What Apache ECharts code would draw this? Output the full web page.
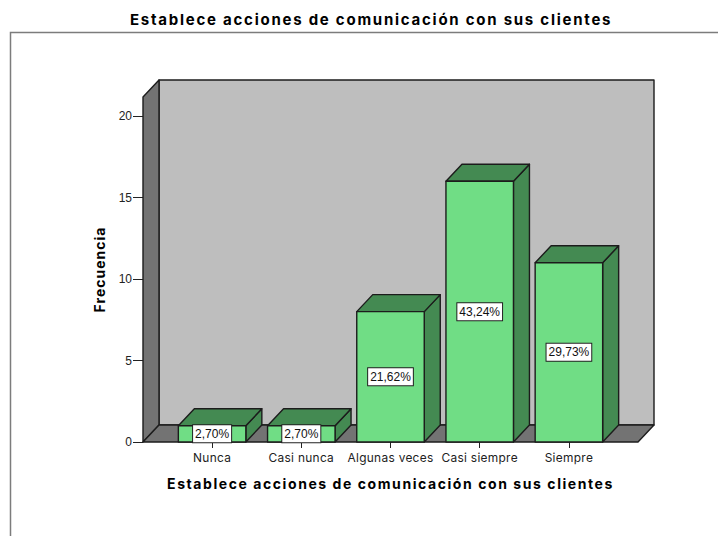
<!DOCTYPE html>
<html><head><meta charset="utf-8">
<style>html,body{margin:0;padding:0;background:#fff}#c{width:718px;height:536px}
#c svg text[style*="bold"]{letter-spacing:1.0px}
#c svg text[style*="15px"]{letter-spacing:1.75px}
#c svg text[style*="14.01px"]{letter-spacing:1.57px}
#c svg text[style*="11.9px"]{letter-spacing:.3px}
</style>
<script src="https://cdn.jsdelivr.net/npm/echarts@6/dist/echarts.min.js"></script>
</head><body><div id="c"></div>
<script>
var titleText = 'Establece acciones de comunicación con sus clientes';
var yName = 'Frecuencia';
var categories = ['Nunca','Casi nunca','Algunas veces','Casi siempre','Siempre'];
var counts = [1,1,8,16,11];
var percents = ['2,70%','2,70%','21,62%','43,24%','29,73%'];

var DX = 16, DY = 17, PAD = 24.5, BARW = 67.5;
var line = '#1c1c1c';
var chart = echarts.init(document.getElementById('c'), null, {renderer:'svg'});
function poly(points, fill, z){
  return {type:'polygon', z2:z||1, shape:{points:points},
    style:{fill:fill, stroke:line, lineWidth:1.4, lineJoin:'round'}};
}
chart.setOption({
  animation:false,
  backgroundColor:'#fff',
  title:{text:titleText, left:130, top:12, padding:0,
    textStyle:{fontFamily:'Inter', fontSize:15, fontWeight:'bold', color:'#000'}},
  graphic:[{type:'polyline', z:-1, shape:{points:[[10.5,540],[10.5,32.5],[725,32.5]]},
    style:{fill:null, stroke:'#7c7c7c', lineWidth:1.5}}],
  grid:{left:167.5, width:446, top:97, height:345},
  xAxis:{type:'category', data:categories,
    name:titleText, nameLocation:'middle', nameGap:34,
    nameTextStyle:{fontFamily:'Inter', fontSize:14.01, fontWeight:'bold', color:'#000'},
    axisLine:{show:false},
    axisTick:{show:true, alignWithLabel:true, length:6, lineStyle:{color:'#222'}},
    axisLabel:{interval:0, margin:9, fontFamily:'Inter', fontSize:11.9, color:'#222'}},
  yAxis:{type:'value', min:0, max:21.17, interval:5, offset:PAD,
    name:yName, nameLocation:'middle', nameGap:37, nameRotate:90,
    nameTextStyle:{fontFamily:'Inter', fontSize:14, fontWeight:'bold', color:'#000'},
    splitLine:{show:false},
    axisLine:{show:false},
    axisTick:{show:true, length:10, lineStyle:{color:'#222'}},
    axisLabel:{margin:11, showMaxLabel:false, fontFamily:'Liberation Sans', fontSize:12, color:'#222'}},
  series:[
    {type:'custom', coordinateSystem:'cartesian2d', z:1, silent:true, clip:false,
     data:[[0,0]], encode:{x:0,y:1},
     renderItem:function(p, api){
       var c = p.coordSys, L=c.x-PAD, R=c.x+c.width+PAD, T=c.y, B=c.y+c.height;
       return {type:'group', children:[
         poly([[L+DX,T-DY],[R+DX,T-DY],[R+DX,B-DY],[L+DX,B-DY]],'#bebebe'),
         poly([[L,T],[L+DX,T-DY],[L+DX,B-DY],[L,B]],'#737373'),
         poly([[L,B],[L+DX,B-DY],[R+DX,B-DY],[R,B]],'#737373')
       ]};
     }},
    {type:'custom', coordinateSystem:'cartesian2d', z:2, silent:true, clip:false,
     data:counts.map(function(v,i){return [i,v];}), encode:{x:0,y:1},
     renderItem:function(p, api){
       var i = api.value(0), v = api.value(1);
       var top = api.coord([i,v]), base = api.coord([i,0]);
       var x0 = top[0]-BARW/2, x1 = top[0]+BARW/2, y = top[1], b = base[1];
       return {type:'group', children:[
         poly([[x1,y],[x1+DX,y-DY],[x1+DX,b-DY],[x1,b]],'#448a52',1),
         poly([[x0,y],[x0+DX,y-DY],[x1+DX,y-DY],[x1,y]],'#448a52',1),
         poly([[x0,y],[x1,y],[x1,b],[x0,b]],'#70dd85',1),
         {type:'text', z2:5, style:{
           text:percents[i], x:top[0], y:(y+b)/2, align:'center', verticalAlign:'middle',
           fill:'#111', fontFamily:'Liberation Sans', fontSize:12,
           backgroundColor:'#fff', borderColor:'#222', borderWidth:1, padding:[3,2,2,2]}}
       ]};
     }}
  ]
});
</script></body></html>
